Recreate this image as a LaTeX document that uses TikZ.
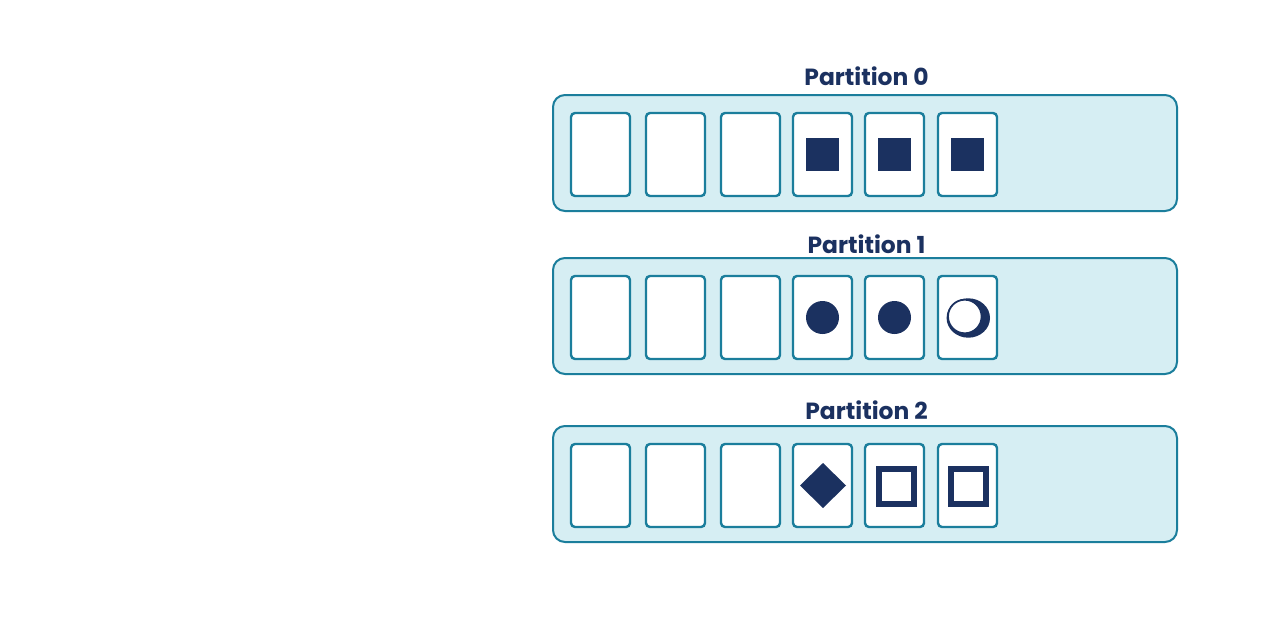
\documentclass[tikz,border=0pt]{standalone}
\usepackage{fontspec}
\setmainfont{Poppins}
\definecolor{navy}{HTML}{1B3160}
\definecolor{teal}{HTML}{1B7E9C}
\definecolor{lightfill}{HTML}{D6EEF3}
\begin{document}
\begin{tikzpicture}[x=1pt,y=-1pt,
  container/.style={draw=teal,fill=lightfill,line width=2pt,rounded corners=12pt},
  cell/.style={draw=teal,fill=white,line width=2.4pt,rounded corners=4pt,minimum width=59pt,minimum height=83pt,inner sep=0pt},
  ptitle/.style={text=navy,font=\fontsize{23.4}{28}\selectfont\bfseries,inner sep=0pt,anchor=center},
  solidsq/.style={fill=navy,draw=none,minimum size=33pt,inner sep=0pt},
  solidcirc/.style={fill=navy,draw=none,circle,minimum size=33pt,inner sep=0pt},
  hollowsq/.style={draw=navy,fill=white,line width=6pt,minimum size=35pt,inner sep=0pt}
]
\useasboundingbox (0,0) rectangle (1280,640);
\fill[white] (0,0) rectangle (1280,640);

% containers
\draw[container] (553,95) rectangle (1177,211);
\draw[container] (553,258) rectangle (1177,374);
\draw[container] (553,426) rectangle (1177,542);

% titles
\node[ptitle] (t0) at (866.5,76) {Partition 0};
\node[ptitle] (t1) at (866.5,244) {Partition 1};
\node[ptitle] (t2) at (866.5,410) {Partition 2};

% cells
\foreach \r/\y in {0/154.5,1/317.5,2/485.5}{
  \foreach \c/\x in {1/600.5,2/675.5,3/750.5,4/822.5,5/894.5,6/967.5}{
    \node[cell] (c\r\c) at (\x,\y) {};
  }
}

% partition 0 marks
\node[solidsq] (m04) at (c04) {};
\node[solidsq] (m05) at (c05) {};
\node[solidsq] (m06) at (c06) {};

% partition 1 marks
\node[solidcirc] (m14) at (c14) {};
\node[solidcirc] (m15) at (c15) {};
\fill[navy] (968.3,318) ellipse (21.7pt and 19.7pt);
\draw[navy,fill=white,line width=1.8pt] (964.8,316.5) circle (16.8pt);

% partition 2 marks
\fill[navy] (823,463) -- (846,485.5) -- (823,508) -- (800,485.5) -- cycle;
\node[hollowsq] (m25) at (896,486) {};
\node[hollowsq] (m26) at (968,486) {};
\end{tikzpicture}
\end{document}
